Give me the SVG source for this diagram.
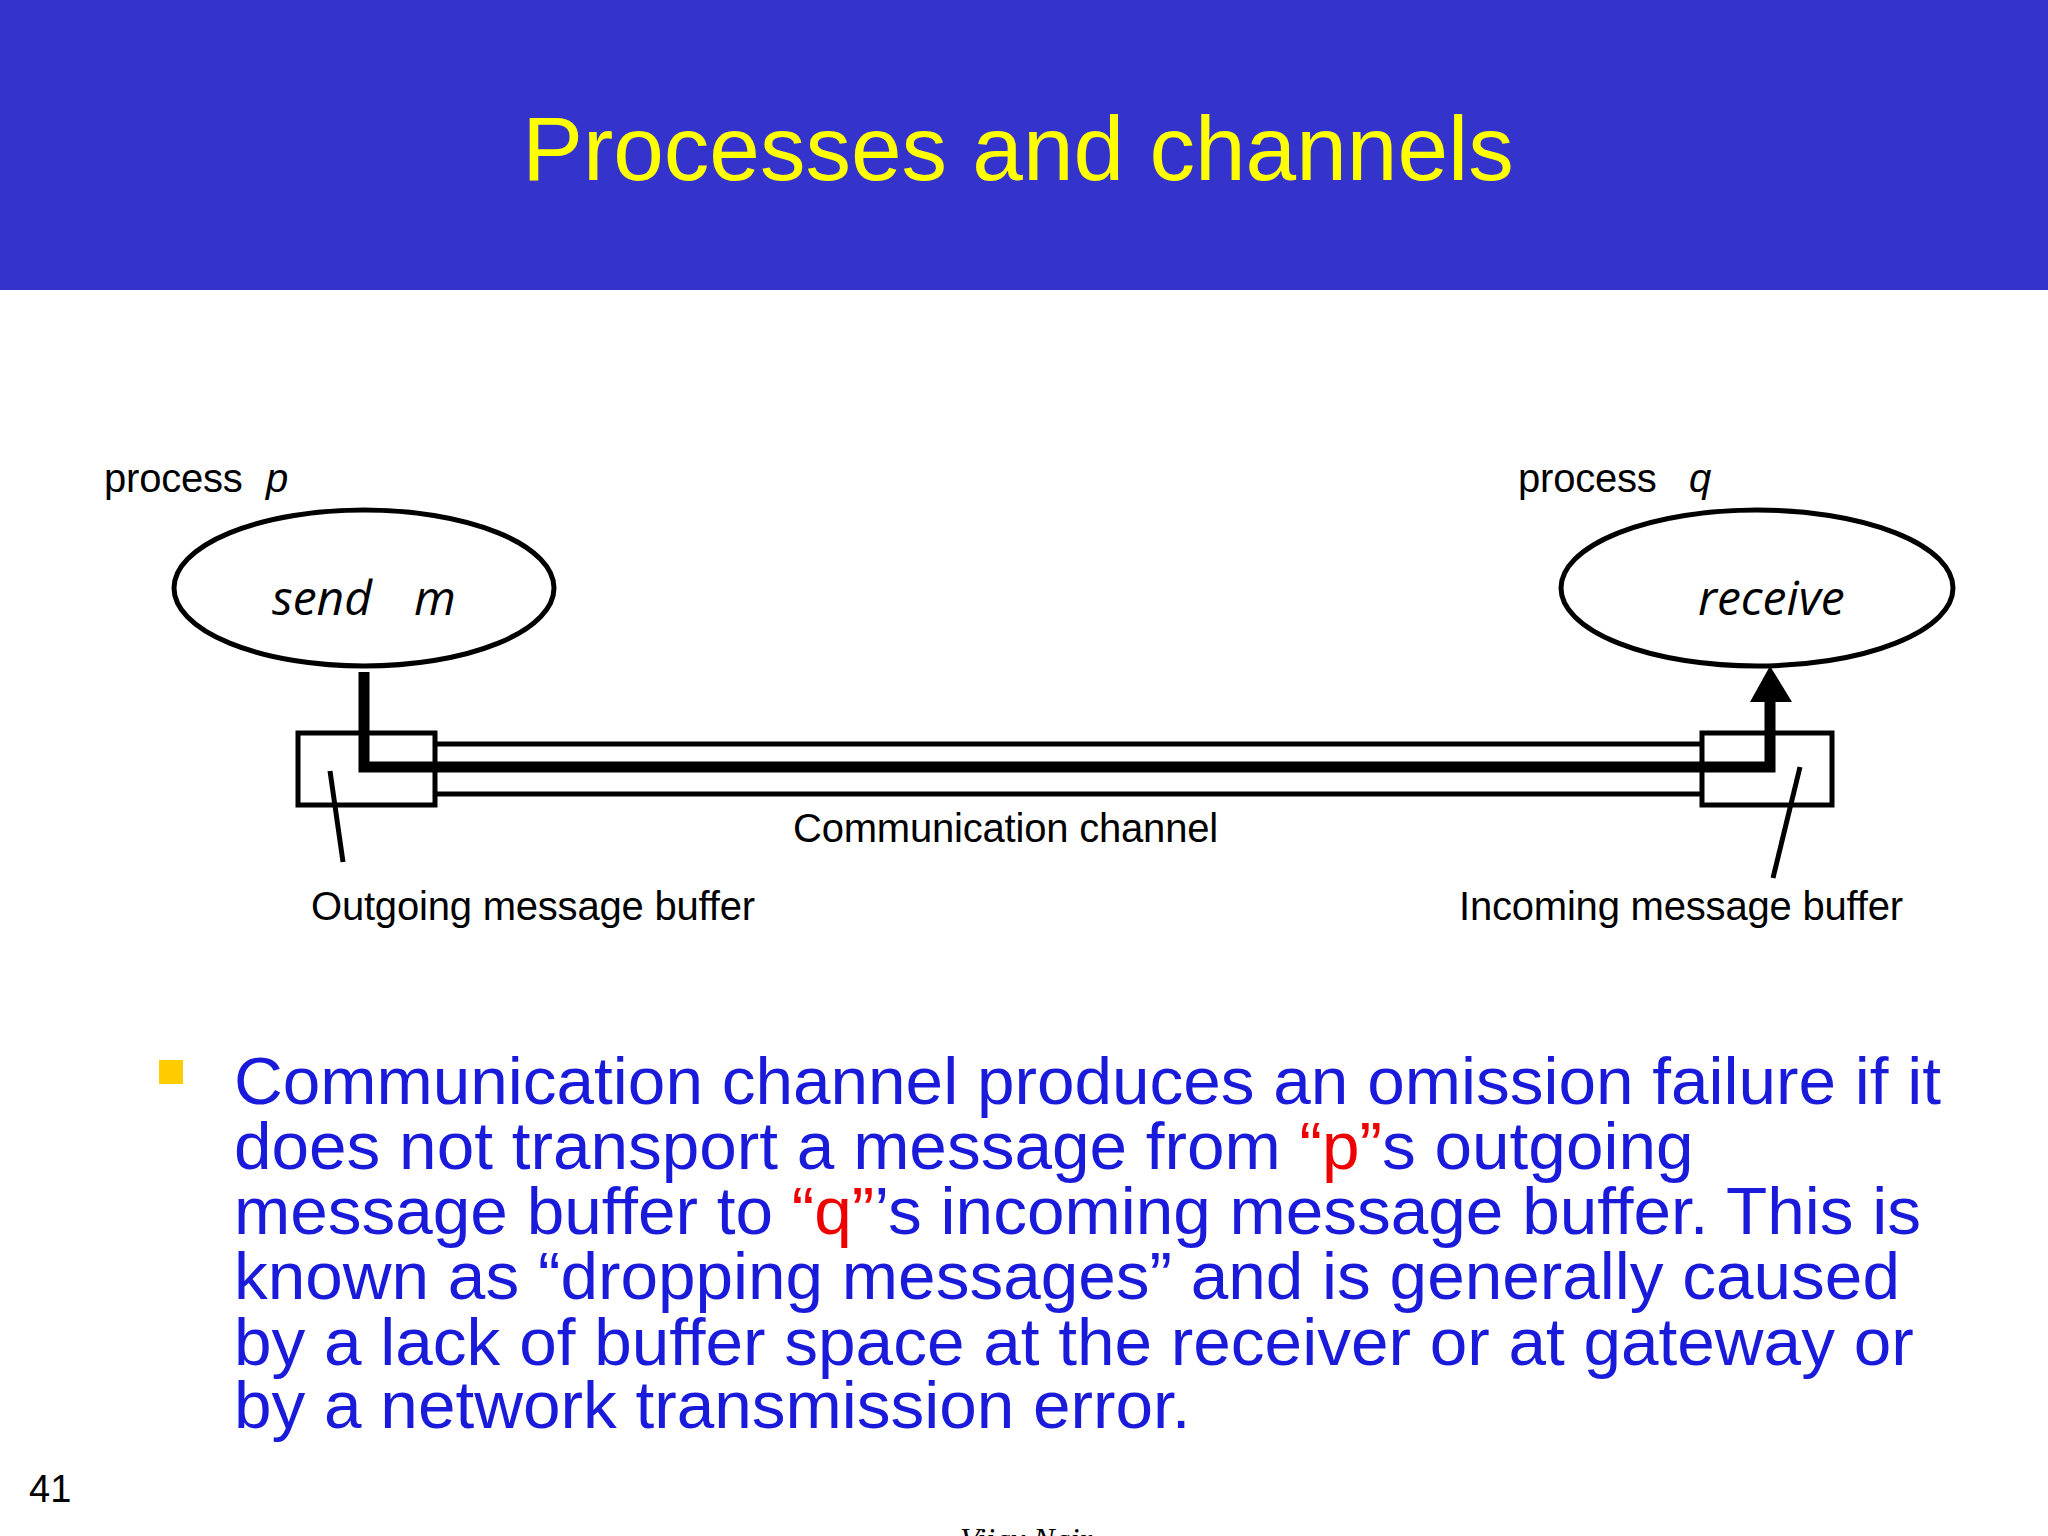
<svg xmlns="http://www.w3.org/2000/svg" width="2048" height="1536" viewBox="0 0 2048 1536">
<style>
.lbl{font-family:"Liberation Sans",Arial,sans-serif;font-size:40px;fill:#000;letter-spacing:-0.2px}
.it{font-family:"Open Sans","Liberation Sans",sans-serif;font-style:italic;font-size:48px;fill:#000}
.body{font-family:"Liberation Sans",Arial,sans-serif;font-size:67.5px;fill:#1a1adb}
.red{fill:#ee0000}
.thin{stroke:#000;stroke-width:5;fill:none}
</style>
<rect width="2048" height="1536" fill="#fff"/>
<rect width="2048" height="290" fill="#3434cc"/>
<text x="1018" y="180" text-anchor="middle" font-family="Liberation Sans,Arial,sans-serif" font-size="91" fill="#ffff00">Processes and channels</text>
<g id="processP">
<text class="lbl" x="104" y="492">process</text>
<text class="lbl" x="266" y="492" font-style="italic">p</text>
<ellipse cx="364" cy="588" rx="190" ry="78" fill="none" stroke="#000" stroke-width="5"/>
<text class="it" x="272" y="615">send</text>
<text class="it" x="414" y="615">m</text>
</g>
<g id="processQ">
<text class="lbl" x="1518" y="492">process</text>
<text class="lbl" x="1689" y="492" font-style="italic">q</text>
<ellipse cx="1757" cy="588" rx="196" ry="78" fill="none" stroke="#000" stroke-width="5"/>
<text class="it" x="1698" y="615">receive</text>
</g>
<g id="outBuf">
<rect x="298" y="733" width="137" height="72" class="thin"/>
<text class="lbl" x="311" y="920">Outgoing message buffer</text>
</g>
<g id="inBuf">
<rect x="1702" y="733" width="130" height="72" class="thin"/>
<text class="lbl" x="1459" y="920">Incoming message buffer</text>
</g>
<g id="connectors">
<line x1="435" y1="744" x2="1702" y2="744" class="thin"/>
<line x1="435" y1="794" x2="1702" y2="794" class="thin"/>
<polyline points="364,672 364,767 1770,767 1770,700" fill="none" stroke="#000" stroke-width="11"/>
<path d="M1750,702 L1770,666 L1792,702 z" fill="#000"/>
<line x1="330" y1="771" x2="343" y2="862" class="thin"/>
<line x1="1800" y1="767" x2="1773" y2="878" class="thin"/>
<text class="lbl" x="793" y="842">Communication channel</text>
</g>
<rect x="159" y="1060" width="24" height="24" fill="#ffcc00"/>
<text class="body" x="234" y="1104">Communication channel produces an omission failure if it</text>
<text class="body" x="234" y="1169">does not transport a message from <tspan class="red">“p”</tspan>s outgoing</text>
<text class="body" x="234" y="1234">message buffer to <tspan class="red">“q”</tspan>’s incoming message buffer. This is</text>
<text class="body" x="234" y="1299">known as “dropping messages” and is generally caused</text>
<text class="body" x="234" y="1365">by a lack of buffer space at the receiver or at gateway or</text>
<text class="body" x="234" y="1428">by a network transmission error.</text>
<text x="29" y="1502" font-family="Liberation Sans,Arial,sans-serif" font-size="38" fill="#000">41</text>
<text x="960" y="1550" font-family="Liberation Serif,serif" font-style="italic" font-size="32" fill="#000">Vijay Nair</text>
</svg>
